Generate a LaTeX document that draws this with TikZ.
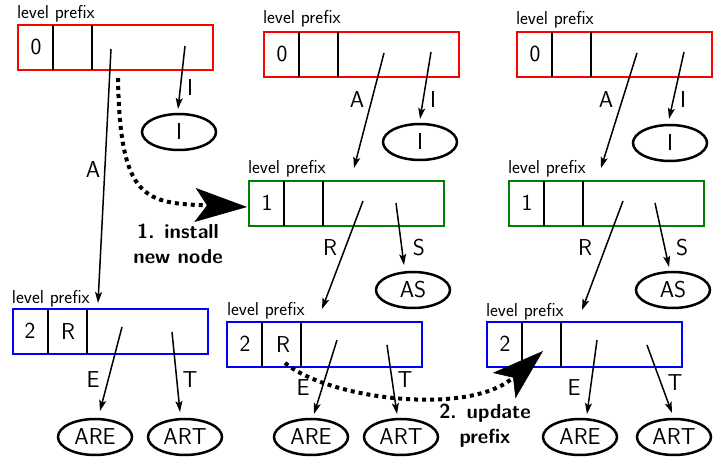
\documentclass[tikz,border=0pt]{standalone}
\usepackage{fontspec}
\usetikzlibrary{arrows.meta,shapes.geometric}
\begin{document}
\begin{tikzpicture}[x=1pt,y=-1pt,
  every node/.style={font=\fontsize{23}{28}\selectfont\sffamily, inner sep=0pt, outer sep=0pt},
  small/.style={font=\fontsize{18.7}{22}\selectfont\sffamily, anchor=west},
  trie/.style={draw=#1, line width=2pt, minimum width=195pt, minimum height=45pt, anchor=north west},
  div/.style={line width=1.5pt},
  edge/.style={line width=1.5pt, -{Stealth[length=11pt,width=7pt,inset=2.5pt]}},
  leaf/.style={ellipse, draw, line width=2.5pt, minimum width=74pt, minimum height=36pt},
  dotarrow/.style={line width=4pt, dash pattern=on 4pt off 4pt,
    -{Stealth[length=52pt,width=34pt,inset=12pt,line width=0.5pt]}},
  boldlbl/.style={font=\fontsize{20.3}{25}\selectfont\sffamily\bfseries, align=center}
]
\useasboundingbox (0,0) rectangle (724,462);
\definecolor{tgreen}{RGB}{0,128,0}

% ---------- boxes ----------
\foreach \n/\c/\x/\y in {r1/red/18/25, b1/blue/13/309, r2/red/264/32, g2/tgreen/249/181,
  b2/blue/227/322, r3/red/517/32, g3/tgreen/509/181, b3/blue/487/322}{
  \node[trie=\c] (\n) at (\x,\y) {};
  \draw[div] ([xshift=35pt]\n.north west) -- ([xshift=35pt]\n.south west);
  \draw[div] ([xshift=74pt]\n.north west) -- ([xshift=74pt]\n.south west);
}

% level prefix labels
\node[small] (lp1) at (17,13.5) {level prefix};
\node[small] (lp2) at (12,299) {level prefix};
\node[small] (lp3) at (263,18.5) {level prefix};
\node[small] (lp4) at (248,169) {level prefix};
\node[small] (lp5) at (227,311) {level prefix};
\node[small] (lp6) at (516,19.5) {level prefix};
\node[small] (lp7) at (508,169) {level prefix};
\node[small] (lp8) at (486,312) {level prefix};

% cell contents
\node (c1) at ([xshift=18pt,yshift=1pt]r1.west) {0};
\node (c2) at ([xshift=17pt,yshift=1pt]b1.west) {2};
\node (c3) at ([xshift=55pt]b1.west) {R};
\node (c4) at ([xshift=18pt,yshift=1pt]r2.west) {0};
\node (c5) at ([xshift=18pt,yshift=1pt]g2.west) {1};
\node (c6) at ([xshift=18pt,yshift=1pt]b2.west) {2};
\node (c7) at ([xshift=56pt]b2.west) {R};
\node (c8) at ([xshift=18pt,yshift=1pt]r3.west) {0};
\node (c9) at ([xshift=18pt,yshift=1pt]g3.west) {1};
\node (c10) at ([xshift=18pt,yshift=1pt]b3.west) {2};

% ---------- leaves ----------
\node[leaf] (i1) at (179,132) {I};
\node[leaf] (are1) at (95,437) {ARE};
\node[leaf] (art1) at (185,437) {ART};
\node[leaf] (i2) at (420,142) {I};
\node[leaf] (as2) at (413,290) {AS};
\node[leaf] (are2) at (311,437) {ARE};
\node[leaf] (art2) at (401,437) {ART};
\node[leaf] (i3) at (670,143) {I};
\node[leaf] (as3) at (673,290) {AS};
\node[leaf] (are3) at (580,437) {ARE};
\node[leaf] (art3) at (674,437) {ART};

% ---------- connector end points ----------
\coordinate (a1s) at (111,49);  \coordinate (a1t) at (98,303);
\coordinate (i1s) at (185,46);  \coordinate (i1t) at (178,109);
\coordinate (e1s) at (122,327); \coordinate (e1t) at (100,411);
\coordinate (t1s) at (172,332); \coordinate (t1t) at (180,412);
\coordinate (a2s) at (384,53);  \coordinate (a2t) at (354,168);
\coordinate (i2s) at (431,52);  \coordinate (i2t) at (420,119);
\coordinate (r2s) at (363,201); \coordinate (r2t) at (322,309);
\coordinate (s2s) at (396,203); \coordinate (s2t) at (404,265);
\coordinate (e2s) at (337,340); \coordinate (e2t) at (314,414);
\coordinate (t2s) at (387,345); \coordinate (t2t) at (397,414);
\coordinate (a3s) at (637,53);  \coordinate (a3t) at (601,168);
\coordinate (i3s) at (684,52);  \coordinate (i3t) at (669,119);
\coordinate (r3s) at (623,201); \coordinate (r3t) at (582,310);
\coordinate (s3s) at (655,203); \coordinate (s3t) at (669,267);
\coordinate (e3s) at (597,340); \coordinate (e3t) at (587,414);
\coordinate (t3s) at (647,345); \coordinate (t3t) at (672,413);

\foreach \p in {a1,i1,e1,t1,a2,i2,r2,s2,e2,t2,a3,i3,r3,s3,e3,t3}{
  \draw[edge] (\p s) -- (\p t);
}

% ---------- connector labels ----------
\node (la1) at (93,170) {A};
\node (li1) at (190,88) {I};
\node (le1) at (93,380) {E};
\node (lt1) at (190,380) {T};
\node (la2) at (357,100) {A};
\node (li2) at (433,100) {I};
\node (lr2) at (330,248) {R};
\node (ls2) at (419,248) {S};
\node (le2) at (303,388) {E};
\node (lt2) at (405,380) {T};
\node (la3) at (606,100) {A};
\node (li3) at (683,100) {I};
\node (lr3) at (585,248) {R};
\node (ls3) at (682,248) {S};
\node (le3) at (574,388) {E};
\node (lt3) at (675,383) {T};

% ---------- dotted step arrows ----------
\coordinate (d1s) at (118,78);
\coordinate (d1t) at (247,207);
\draw[dotarrow] (d1s) .. controls (120,200) and (145,203) .. (d1t);
\coordinate (d2s) at (285,363);
\coordinate (d2t) at (543,351);
\draw[dotarrow] (d2s) .. controls (330,400) and (470,416) .. (d2t);

\node[boldlbl] (st1) at (178,244) {1. install\\new node};
\node[boldlbl] (st2) at (485,426) {2. update\\prefix};
\end{tikzpicture}
\end{document}
